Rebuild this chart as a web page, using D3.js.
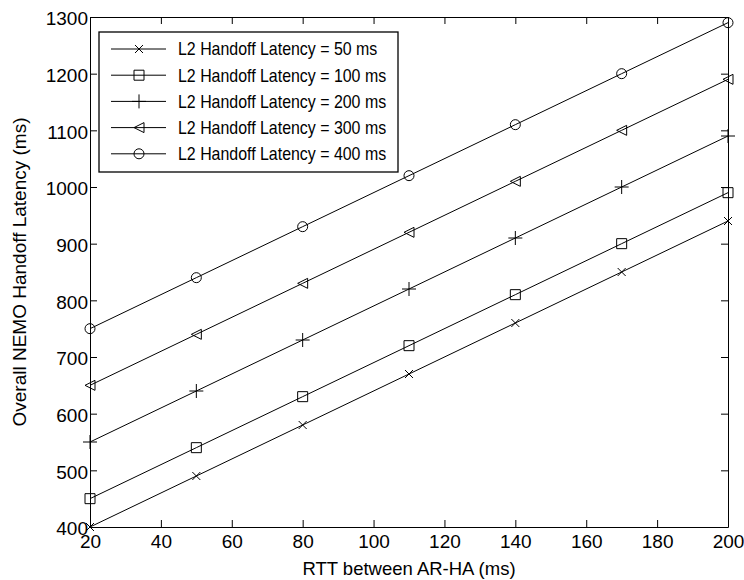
<!DOCTYPE html>
<html lang="en">
<head>
    <meta charset="UTF-8">
    <title>Overall NEMO Handoff Latency</title>
    <script src="https://d3js.org/d3.v7.min.js"></script>
    <style>
        body { margin: 0; background: #fff; }
        svg { font-family: "Liberation Sans", Arial, sans-serif; }
        .axis path, .axis line { stroke: #000; stroke-width: 1; }
        .axis text { fill: #000; font-size: 19px; }
        .series { fill: none; stroke: #000; stroke-width: 1; }
        .marker { fill: none; stroke: #000; stroke-width: 1; }
    </style>
</head>
<body>
<svg width="744" height="580"></svg>
<script>
// data
const rtt = [20, 50, 80, 110, 140, 170, 200];
const lat50 = [400, 490, 580, 670, 760, 850, 940];
const lat100 = [450, 540, 630, 720, 810, 900, 990];
const lat200 = [550, 640, 730, 820, 910, 1000, 1090];
const lat300 = [650, 740, 830, 920, 1010, 1100, 1190];
const lat400 = [750, 840, 930, 1020, 1110, 1200, 1290];
const seriesNames = [
    "L2 Handoff Latency = 50 ms",
    "L2 Handoff Latency = 100 ms",
    "L2 Handoff Latency = 200 ms",
    "L2 Handoff Latency = 300 ms",
    "L2 Handoff Latency = 400 ms"
];
const xTicks = [20, 40, 60, 80, 100, 120, 140, 160, 180, 200];
const yTicks = [400, 500, 600, 700, 800, 900, 1000, 1100, 1200, 1300];

const allSeries = [lat50, lat100, lat200, lat300, lat400];
const markerKinds = ["x", "square", "plus", "triangle", "circle"];

const margin = {top: 17, right: 16, bottom: 53, left: 90};
const width = 744 - margin.left - margin.right;
const height = 580 - margin.top - margin.bottom;

const svg = d3.select("svg");
const g = svg.append("g").attr("transform", `translate(${margin.left},${margin.top})`);

const x = d3.scaleLinear().domain([20, 200]).range([0, width]);
const y = d3.scaleLinear().domain([400, 1300]).range([height, 0]);
const fmt = d3.format("d");

// marker shapes
function markerPath(kind) {
    switch (kind) {
        case "x": return "M-4,-4L4,4M-4,4L4,-4";
        case "square": return "M-5,-5H5V5H-5Z";
        case "plus": return "M-7,0H7M0,-7V7";
        case "triangle": return "M-5,0L5,-5L5,5Z";
        case "circle": return d3.arc()({innerRadius: 0, outerRadius: 5, startAngle: 0, endAngle: 2 * Math.PI});
    }
}

// axes, ticks pointing inward
g.append("g").attr("class", "axis xaxis")
    .attr("transform", `translate(0,${height})`)
    .call(d3.axisBottom(x).tickValues(xTicks).tickFormat(fmt).tickSizeInner(-7).tickSizeOuter(0).tickPadding(8));
g.append("g").attr("class", "axis")
    .call(d3.axisTop(x).tickValues(xTicks).tickSizeInner(-7).tickSizeOuter(0).tickFormat(""));
g.append("g").attr("class", "axis yaxis")
    .call(d3.axisLeft(y).tickValues(yTicks).tickFormat(fmt).tickSizeInner(-7).tickSizeOuter(0).tickPadding(2));
g.append("g").attr("class", "axis")
    .attr("transform", `translate(${width},0)`)
    .call(d3.axisRight(y).tickValues(yTicks).tickSizeInner(-7).tickSizeOuter(0).tickFormat(""));

g.selectAll(".yaxis .tick text").attr("dy", "0.42em");

// lines and markers
const line = d3.line().x((d, i) => x(rtt[i])).y(d => y(d));
allSeries.forEach((vals, k) => {
    g.append("path").attr("class", "series").attr("d", line(vals));
    g.selectAll(null)
        .data(vals)
        .enter().append("path")
        .attr("class", "marker")
        .attr("transform", (d, i) => `translate(${x(rtt[i])},${y(d)})`)
        .attr("d", markerPath(markerKinds[k]));
});

// axis labels
svg.append("text")
    .attr("x", margin.left + width / 2)
    .attr("y", 575)
    .attr("text-anchor", "middle")
    .style("font-size", "18.5px")
    .text("RTT between AR-HA (ms)");

svg.append("text")
    .attr("transform", `translate(26,${margin.top + height / 2}) rotate(-90)`)
    .attr("text-anchor", "middle")
    .style("font-size", "19px")
    .text("Overall NEMO Handoff Latency (ms)");

// legend
const legend = svg.append("g").attr("transform", "translate(99,32)");
legend.append("rect")
    .attr("width", 299).attr("height", 140)
    .attr("fill", "#fff").attr("stroke", "#000").attr("stroke-width", 1.3);
seriesNames.forEach((name, k) => {
    const row = legend.append("g").attr("transform", `translate(0,${17 + k * 26.2})`);
    row.append("line").attr("x1", 12).attr("x2", 67).attr("stroke", "#000");
    row.append("path").attr("class", "marker")
        .attr("transform", "translate(40,0)")
        .attr("d", markerPath(markerKinds[k]));
    row.append("text")
        .attr("transform", "translate(79,0) scale(0.885,1)")
        .attr("dy", "0.36em")
        .style("font-size", "18px")
        .text(name);
});
</script>
</body>
</html>
